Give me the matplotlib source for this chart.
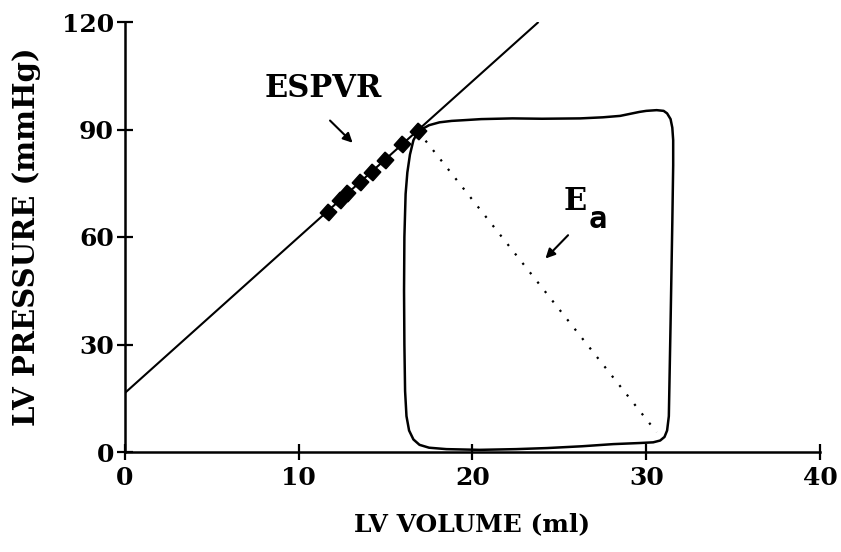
import matplotlib
matplotlib.use("Agg")
import matplotlib.pyplot as plt

# ---- data ----
x_ticks = [0, 10, 20, 30, 40]
y_ticks = [0, 30, 60, 90, 120]

# ESPVR line (end-systolic pressure-volume relation)
espvr_vol = [0.0, 23.8]
espvr_pres = [16.5, 120.0]

# end-systolic points along ESPVR
es_vol = [11.69, 12.38, 12.78, 13.53, 14.22, 14.97, 15.95, 16.87]
es_pres = [66.9, 70.4, 72.3, 75.3, 78.2, 81.6, 86.0, 89.5]

# steady-state pressure-volume loop
loop_vol = [16.87, 16.60, 16.40, 16.25, 16.15, 16.08, 16.06, 16.08, 16.12, 16.20,
            16.35, 16.60, 16.95, 17.50, 18.50, 20.40, 22.50, 24.30, 26.30, 28.10,
            29.60, 30.40, 30.80, 31.05, 31.20, 31.30, 31.40, 31.50, 31.55, 31.55,
            31.50, 31.40, 31.20, 31.00, 30.60, 30.00, 29.60, 28.50, 27.50, 26.20,
            24.00, 22.30, 20.50, 19.50, 18.80, 18.10, 17.50, 16.87]
loop_pres = [89.5, 87.0, 83.0, 78.0, 72.0, 60.0, 45.0, 30.0, 17.0, 10.0,
             6.0, 3.5, 2.0, 1.2, 0.8, 0.6, 0.8, 1.1, 1.6, 2.2,
             2.5, 2.7, 3.2, 4.2, 6.0, 10.0, 36.0, 64.0, 80.0, 87.0,
             90.5, 92.9, 94.5, 95.2, 95.4, 95.2, 94.9, 93.8, 93.4, 93.1,
             93.0, 93.1, 92.9, 92.6, 92.4, 92.0, 91.2, 89.5]

# effective arterial elastance line
ea_vol = [16.87, 30.6]
ea_pres = [89.5, 5.5]

# ---- figure ----
fig = plt.figure(figsize=(8.41, 5.52), dpi=100)
ax = fig.add_axes([125/841, 1 - 452/552, (820 - 125)/841, (452 - 22)/552])

serif = "DejaVu Serif"

ax.plot(espvr_vol, espvr_pres, color="black", lw=1.5, solid_capstyle="butt", zorder=3)
ax.plot(loop_vol, loop_pres, color="black", lw=1.8, solid_joinstyle="round", zorder=3)
ax.plot(ea_vol, ea_pres, color="black", lw=1.6, linestyle=(0, (1, 4.4)), zorder=3)
ax.plot(es_vol, es_pres, linestyle="none", marker=(4, 0, 3), markersize=12,
        color="black", zorder=4)

ax.set_xlim(0, 40)
ax.set_ylim(0, 120)
ax.set_xticks(x_ticks)
ax.set_yticks(y_ticks)
ax.set_xticklabels([str(v) for v in x_ticks], fontfamily=serif, fontweight="bold", fontsize=18)
ax.set_yticklabels([str(v) for v in y_ticks], fontfamily=serif, fontweight="bold", fontsize=18)
ax.tick_params(direction="inout", length=12, width=1.6, pad=2)
ax.tick_params(axis="x", pad=4)

for s in ["top", "right"]:
    ax.spines[s].set_visible(False)
for s in ["left", "bottom"]:
    ax.spines[s].set_linewidth(1.8)

ax.set_xlabel("LV VOLUME (ml)", fontfamily=serif, fontweight="bold", fontsize=18, labelpad=16)
ax.set_ylabel("LV PRESSURE (mmHg)", fontfamily=serif, fontweight="bold", fontsize=21, labelpad=15)

ax.text(11.4, 101.5, "ESPVR", ha="center", va="center", fontfamily=serif,
        fontweight="bold", fontsize=22)
ax.annotate("", xy=(13.1, 86.3), xytext=(11.8, 92.5),
            arrowprops=dict(arrowstyle="-|>", color="black", lw=1.5,
                            mutation_scale=14, shrinkA=0, shrinkB=0))

ax.annotate("", xy=(24.2, 54.0), xytext=(25.5, 60.5),
            arrowprops=dict(arrowstyle="-|>", color="black", lw=1.5,
                            mutation_scale=14, shrinkA=0, shrinkB=0))
ax.text(25.9, 70.0, "E", ha="center", va="center", fontfamily=serif,
        fontweight="bold", fontsize=22)
ax.text(27.2, 65.0, "a", ha="center", va="center", fontfamily="DejaVu Sans Mono",
        fontweight="bold", fontsize=22)

fig.savefig("out.png", dpi=100)
